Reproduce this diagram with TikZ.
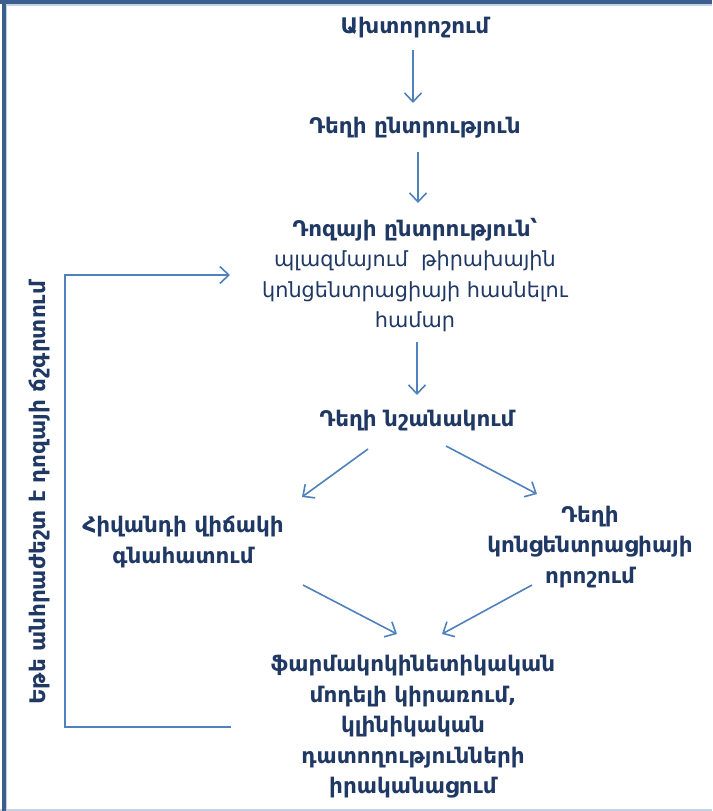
\documentclass[tikz,border=0pt]{standalone}
\usepackage{fontspec}
\setmainfont{DejaVu Sans}
\usetikzlibrary{arrows.meta,calc}
\definecolor{txt}{HTML}{1F3864}
\definecolor{arrc}{HTML}{4F81BD}
\definecolor{frame}{HTML}{3B5E8C}
\definecolor{framelt}{HTML}{C5D3E8}
\begin{document}
\begin{tikzpicture}[x=1pt,y=-1pt,
  lbl/.style={text=txt,align=center,inner sep=0pt,font=\fontsize{21.5}{30.5}\selectfont\bfseries},
  reg/.style={font=\fontsize{20.8}{30.5}\selectfont\mdseries},
  arr/.style={draw=arrc,line width=1.6pt,-{Straight Barb[length=9pt,width=17pt,line width=1.6pt]}},
  loop/.style={draw=arrc,line width=1.3pt}]
\useasboundingbox (0,0) rectangle (712,811);
\fill[white] (0,0) rectangle (712,811);
% frame
\fill[framelt] (0,808.5) rectangle (712,811);
\fill[framelt] (5,4) rectangle (712,5.5);
\fill[framelt] (5.5,4) rectangle (7,811);
\fill[frame] (0,0) rectangle (712,4);
\fill[frame] (1.5,0) rectangle (5.7,811);
% nodes
\node[lbl] (n1) at (415,28) {Ախտորոշում};
\node[lbl] (n2) at (415,128) {Դեղի ընտրություն};
\node[lbl] (n3) at (415,275) {Դոզայի ընտրություն՝\\{\fontsize{20.8}{30.5}\selectfont\mdseries պլազմայում\ \ թիրախային}\\{\fontsize{20.8}{30.5}\selectfont\mdseries կոնցենտրացիայի հասնելու}\\{\fontsize{20.8}{30.5}\selectfont\mdseries համար}};
\node[lbl] (n4) at (417,421) {Դեղի նշանակում};
\node[lbl] (nl) at (183,542) {Հիվանդի վիճակի\\գնահատում};
\node[lbl] (nr) at (590,547) {Դեղի\\կոնցենտրացիայի\\որոշում};
\node[lbl] (n5) at (413,727) {ֆարմակոկինետիկական\\մոդելի կիրառում,\\կլինիկական\\դատողությունների\\իրականացում};
\node[lbl,rotate=90] (nv) at (40,493) {Եթե անհրաժեշտ է դոզայի ճշգրտում};
% connectors
\draw[arr] ($(n1)+(-2,22)$) -- ($(n2)+(-2,-25)$);
\draw[arr] ($(n2)+(3,24)$) -- ($(n3)+(3,-72)$);
\draw[arr] ($(n3)+(2,67)$) -- ($(n4)+(0,-26)$);
\draw[arr] ($(n4)+(-49,28)$) -- ($(nl)+(119,-45)$);
\draw[arr] ($(n4)+(29,25)$) -- ($(nr)+(-53,-53)$);
\draw[arr] ($(nl)+(120,43)$) -- ($(n5)+(-16,-93)$);
\draw[arr] ($(nr)+(-58,38)$) -- ($(n5)+(29,-93)$);
\draw[loop] ($(n5)+(-182,0)$) -- ++(-166,0) |- ($(n3)+(-190,0)$);
\draw[arr] ($(n3)+(-191,0)$) -- ($(n3)+(-185,0)$);
\end{tikzpicture}
\end{document}
